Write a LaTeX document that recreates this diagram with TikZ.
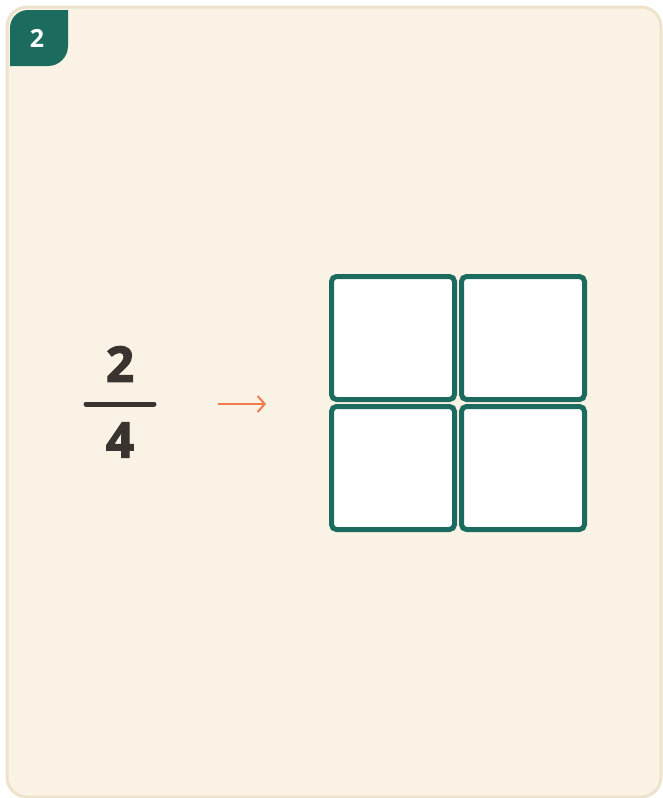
\documentclass[tikz,border=0pt]{standalone}
\usepackage{fontspec}
\setmainfont{Open Sans}
\newfontfamily\heavyfont{Open Sans Bold}[FakeBold=2.5]
\usetikzlibrary{arrows.meta, positioning}

\definecolor{cardbg}{HTML}{FAF2E4}
\definecolor{cardline}{HTML}{EDE3CC}
\definecolor{teal}{HTML}{1B6B5E}
\definecolor{ink}{HTML}{3A3430}
\definecolor{arroworange}{HTML}{F07B4B}

\tikzset{
  cell/.style={draw=teal, fill=white, line width=5pt, rounded corners=5pt,
    minimum width=123pt, minimum height=123pt, inner sep=0pt},
  digit/.style={text=ink, font=\fontsize{49}{49}\heavyfont, inner sep=0pt},
}

\begin{document}
\begin{tikzpicture}[x=1pt, y=-1pt, >=Stealth]
    % 画布
    \useasboundingbox (0,0) rectangle (663,798);
    \fill[white] (0,0) rectangle (663,798);
    \draw[cardline, fill=cardbg, line width=3pt, rounded corners=20pt] (7,7) rectangle (661,797);

    % 题号标签
    \fill[teal] (10,66) -- (10,28) arc[start angle=180, end angle=270, radius=18]
      -- (68,10) -- (68,46) arc[start angle=0, end angle=90, radius=20] -- cycle;
    \node[text=white, font=\fontsize{25}{25}\selectfont\bfseries, inner sep=0pt] (badge) at (37,38) {2};

    % 分数
    \node[digit] (num) at (120,364) {2};
    \node[digit] (den) at (120,440) {4};
    \coordinate (barL) at (86,404);
    \coordinate (barR) at (154,404);
    \draw[ink, line width=5pt, line cap=round] (barL) -- (barR);

    % 箭头
    \coordinate (arrA) at (218,404);
    \coordinate (arrB) at (266,404);
    \draw[arroworange, line width=2pt, -{Straight Barb[length=7pt, width=16pt]}] (arrA) -- (arrB);

    % 四等分的方格
    \node[cell] (c11) at (393,338) {};
    \node[cell, right=2pt of c11] (c12) {};
    \node[cell, below=2pt of c11] (c21) {};
    \node[cell, right=2pt of c21] (c22) {};
\end{tikzpicture}
\end{document}
